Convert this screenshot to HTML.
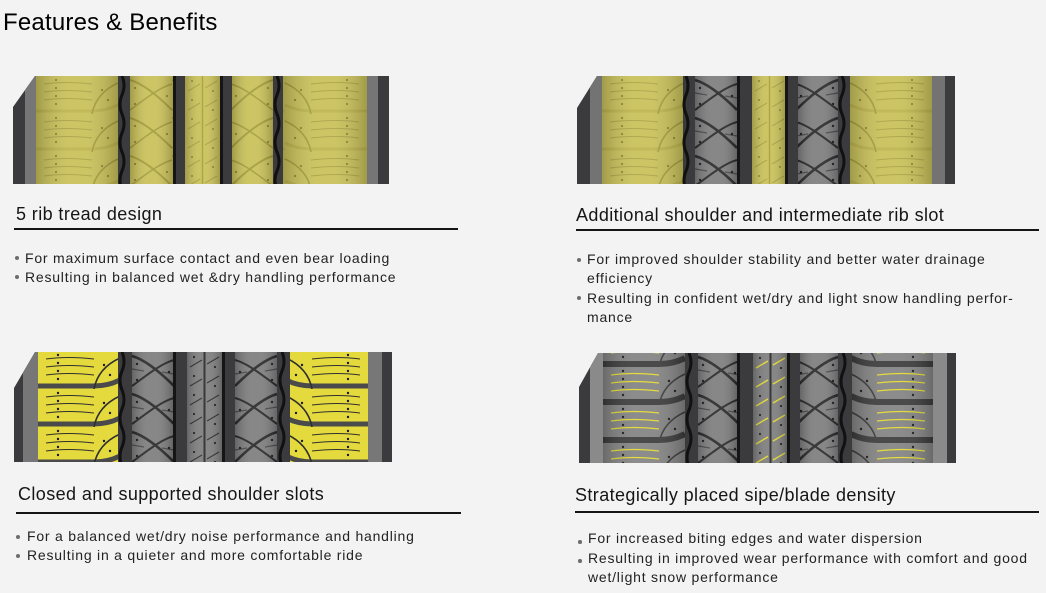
<!DOCTYPE html>
<html><head><meta charset="utf-8">
<style>
html,body{margin:0;padding:0;}
body{width:1046px;height:593px;background:#f3f3f3;position:relative;overflow:hidden;font-family:"Liberation Sans",Arial,sans-serif;color:#1a1a1a;}
.t{position:absolute;white-space:nowrap;}
.title{left:3px;top:9px;font-size:24px;line-height:28px;color:#000;letter-spacing:0.2px;}
.h{font-size:18px;line-height:22px;letter-spacing:0.4px;color:#151515;}
.ul{position:absolute;height:2px;background:#151515;}
.b{font-size:14px;letter-spacing:0.78px;color:#222;}
.d{position:absolute;width:4px;height:4px;border-radius:50%;background:#6d6d6d;}
svg{position:absolute;}
</style></head><body>

<svg width="0" height="0" style="left:0;top:0">
<defs>
<linearGradient id="sh" x1="0" x2="1" y1="0" y2="0">
 <stop offset="0" stop-color="#000" stop-opacity=".2"/>
 <stop offset=".4" stop-color="#fff" stop-opacity=".07"/>
 <stop offset=".6" stop-color="#fff" stop-opacity=".07"/>
 <stop offset="1" stop-color="#000" stop-opacity=".2"/>
</linearGradient>
<pattern id="pOS" patternUnits="userSpaceOnUse" width="82" height="38">
 <rect width="82" height="38" fill="#c9c159"/>
 <path d="M0,35 H56 Q70,35 82,29" stroke="#bdb44c" stroke-width="3" fill="none"/>
 <path d="M56,38 Q60,17 82,7" stroke="#a69d3b" stroke-width="1.6" fill="none"/>
 <path d="M8,8 Q30,5 56,8 M8,16 Q30,13 56,16 M8,24 Q30,21 56,24" stroke="#aba243" stroke-width="1.1" fill="none"/>
 <g fill="#8b832f"><circle cx="20" cy="4" r="1.1"/><circle cx="20" cy="12" r="1.1"/><circle cx="20" cy="20" r="1.1"/><circle cx="20" cy="28" r="1.1"/><circle cx="66" cy="14" r="1.1"/><circle cx="72" cy="24" r="1.1"/></g>
</pattern>
<pattern id="pOR" patternUnits="userSpaceOnUse" width="42" height="38">
 <rect width="42" height="38" fill="#c9c159"/>
 <path d="M0,4 C14,8 30,22 42,34" stroke="#a69d3b" stroke-width="2" fill="none"/>
 <path d="M0,34 C14,24 28,12 42,8" stroke="#a69d3b" stroke-width="1.6" fill="none"/>
 <g fill="#8b832f"><circle cx="5" cy="12" r="1.1"/><circle cx="5" cy="28" r="1.1"/><circle cx="37" cy="20" r="1.1"/></g>
</pattern>
<pattern id="pOC" patternUnits="userSpaceOnUse" width="35" height="19">
 <rect width="35" height="19" fill="#c9c159"/>
 <path d="M17.5,0 V19" stroke="#a69d3b" stroke-width="1.4"/>
 <path d="M3,15 L15,8 M20,12 L32,5" stroke="#aba243" stroke-width="1.1"/>
 <g fill="#8b832f"><circle cx="7" cy="5" r="1"/><circle cx="28" cy="15" r="1"/></g>
</pattern>
<pattern id="pGR" patternUnits="userSpaceOnUse" width="42" height="38">
 <rect width="42" height="38" fill="#7e7e7e"/>
 <path d="M0,4 C14,8 30,22 42,34" stroke="#2a2a2a" stroke-width="2.6" fill="none"/>
 <path d="M0,34 C14,24 28,12 42,8" stroke="#2a2a2a" stroke-width="2" fill="none"/>
 <path d="M0,17 L12,19 M30,20 L42,22" stroke="#4a4a4a" stroke-width="1.2"/>
 <g fill="#1c1c1c"><circle cx="5" cy="12" r="1.2"/><circle cx="5" cy="28" r="1.2"/><circle cx="37" cy="20" r="1.2"/></g>
</pattern>
<pattern id="pGC" patternUnits="userSpaceOnUse" width="35" height="19">
 <rect width="35" height="19" fill="#7e7e7e"/>
 <path d="M17.5,0 V19" stroke="#2a2a2a" stroke-width="2"/>
 <path d="M3,15 L15,8 M20,12 L32,5" stroke="#2e2e2e" stroke-width="1.2"/>
 <g fill="#1c1c1c"><circle cx="7" cy="5" r="1.1"/><circle cx="28" cy="15" r="1.1"/></g>
</pattern>
<pattern id="pYC" patternUnits="userSpaceOnUse" width="35" height="19">
 <rect width="35" height="19" fill="#7e7e7e"/>
 <path d="M17.5,0 V19" stroke="#2a2a2a" stroke-width="2"/>
 <path d="M3,15 L15,8 M20,12 L32,5" stroke="#e2d830" stroke-width="1.4"/>
 <g fill="#1c1c1c"><circle cx="7" cy="5" r="1.1"/><circle cx="28" cy="15" r="1.1"/></g>
</pattern>
<pattern id="pYS" patternUnits="userSpaceOnUse" width="82" height="38" y="-1">
 <rect width="82" height="38" fill="#e5da3d"/>
 <path d="M0,35 H56 Q70,35 82,29" stroke="#4a4a4a" stroke-width="5" fill="none"/>
 <path d="M56,38 Q60,17 82,7" stroke="#2f2f2f" stroke-width="1.6" fill="none"/>
 <path d="M8,8 Q30,5 56,8 M8,16 Q30,13 56,16 M8,24 Q30,21 56,24" stroke="#2f2f2f" stroke-width="1.1" fill="none"/>
 <g fill="#1a1a1a"><circle cx="20" cy="4" r="1.2"/><circle cx="20" cy="12" r="1.2"/><circle cx="20" cy="20" r="1.2"/><circle cx="20" cy="28" r="1.2"/><circle cx="66" cy="14" r="1.2"/><circle cx="72" cy="24" r="1.2"/></g>
</pattern>
<pattern id="pGS" patternUnits="userSpaceOnUse" width="82" height="38" y="14">
 <rect width="82" height="38" fill="#838383"/>
 <path d="M0,35 H56 Q70,35 82,29" stroke="#3c3c3c" stroke-width="6" fill="none"/>
 <path d="M56,38 Q60,17 82,7" stroke="#3c3c3c" stroke-width="1.6" fill="none"/>
 <path d="M8,8 Q30,5 56,8 M8,16 Q30,13 56,16 M8,24 Q30,21 56,24" stroke="#e3d930" stroke-width="1.2" fill="none"/>
 <g fill="#1a1a1a"><circle cx="20" cy="4" r="1.2"/><circle cx="20" cy="12" r="1.2"/><circle cx="20" cy="20" r="1.2"/><circle cx="20" cy="28" r="1.2"/><circle cx="66" cy="14" r="1.2"/><circle cx="72" cy="24" r="1.2"/></g>
</pattern>
<clipPath id="c1"><polygon points="22,0 376,0 376,108 0,108 0,31"/></clipPath>
<clipPath id="c2"><polygon points="20,0 378,0 378,108 0,108 0,32"/></clipPath>
<clipPath id="c3"><polygon points="21,0 378,0 378,110 0,110 0,36"/></clipPath>
<clipPath id="c4"><polygon points="19,0 377,0 377,110 0,110 0,34"/></clipPath>
</defs>
</svg>

<div class="t title">Features &amp; Benefits</div>

<!-- Tire 1 -->
<svg style="left:13px;top:76px" width="376" height="108">
<g clip-path="url(#c1)">
<rect width="376" height="108" fill="#3b3b3d"/>
<rect x="12" width="11" height="108" fill="#767676"/>
<g transform="translate(23,0)"><rect width="82" height="108" fill="url(#pOS)"/><rect width="82" height="108" fill="url(#sh)"/></g>
<path d="M109,0 Q113,9.5 109,19 T109,38 T109,57 T109,76 T109,95 T109,114" stroke="#111" stroke-width="3" fill="none"/>
<g transform="translate(117,0)"><rect width="43" height="108" fill="url(#pOR)"/><rect width="43" height="108" fill="url(#sh)"/></g>
<rect x="160" width="3" height="108" fill="#151515"/>
<g transform="translate(172,0)"><rect width="35" height="108" fill="url(#pOC)"/><rect width="35" height="108" fill="url(#sh)"/></g>
<rect x="207" width="3" height="108" fill="#151515"/>
<g transform="translate(260,0) scale(-1,1)"><rect width="41" height="108" fill="url(#pOR)"/><rect width="41" height="108" fill="url(#sh)"/></g>
<path d="M264,0 Q268,9.5 264,19 T264,38 T264,57 T264,76 T264,95 T264,114" stroke="#111" stroke-width="3" fill="none"/>
<g transform="translate(354,0) scale(-1,1)"><rect width="84" height="108" fill="url(#pOS)"/><rect width="84" height="108" fill="url(#sh)"/></g>
<rect x="354" width="11" height="108" fill="#767676"/>
</g>
</svg>

<!-- Tire 2 -->
<svg style="left:577px;top:76px" width="378" height="108">
<g clip-path="url(#c2)">
<rect width="378" height="108" fill="#3b3b3d"/>
<rect x="13" width="12" height="108" fill="#737373"/>
<g transform="translate(25,0)"><rect width="81" height="108" fill="url(#pOS)"/><rect width="81" height="108" fill="url(#sh)"/></g>
<path d="M109,0 Q113,9.5 109,19 T109,38 T109,57 T109,76 T109,95 T109,114" stroke="#111" stroke-width="3" fill="none"/>
<g transform="translate(118,0)"><rect width="42" height="108" fill="url(#pGR)"/><rect width="42" height="108" fill="url(#sh)"/></g>
<rect x="160" width="3" height="108" fill="#151515"/>
<g transform="translate(175,0)"><rect width="33" height="108" fill="url(#pOC)"/><rect width="33" height="108" fill="url(#sh)"/></g>
<rect x="208" width="3" height="108" fill="#151515"/>
<g transform="translate(261,0) scale(-1,1)"><rect width="40" height="108" fill="url(#pGR)"/><rect width="40" height="108" fill="url(#sh)"/></g>
<path d="M265,0 Q269,9.5 265,19 T265,38 T265,57 T265,76 T265,95 T265,114" stroke="#111" stroke-width="3" fill="none"/>
<g transform="translate(355,0) scale(-1,1)"><rect width="82" height="108" fill="url(#pOS)"/><rect width="82" height="108" fill="url(#sh)"/></g>
<rect x="355" width="13" height="108" fill="#737373"/>
</g>
</svg>

<!-- Tire 3 -->
<svg style="left:14px;top:352px" width="378" height="110">
<g clip-path="url(#c3)">
<rect width="378" height="110" fill="#3b3b3d"/>
<rect x="9" width="15" height="110" fill="#777"/>
<g transform="translate(24,0)"><rect width="80" height="110" fill="url(#pYS)"/></g>
<path d="M108,0 Q112,9.5 108,19 T108,38 T108,57 T108,76 T108,95 T108,114" stroke="#111" stroke-width="3" fill="none"/>
<g transform="translate(118,0)"><rect width="41" height="110" fill="url(#pGR)"/><rect width="41" height="110" fill="url(#sh)"/></g>
<rect x="159" width="3" height="110" fill="#151515"/>
<g transform="translate(173,0)"><rect width="35" height="110" fill="url(#pGC)"/><rect width="35" height="110" fill="url(#sh)"/></g>
<rect x="208" width="3" height="110" fill="#151515"/>
<g transform="translate(263,0) scale(-1,1)"><rect width="42" height="110" fill="url(#pGR)"/><rect width="42" height="110" fill="url(#sh)"/></g>
<path d="M268,0 Q272,9.5 268,19 T268,38 T268,57 T268,76 T268,95 T268,114" stroke="#111" stroke-width="3" fill="none"/>
<g transform="translate(354,0) scale(-1,1)"><rect width="78" height="110" fill="url(#pYS)"/></g>
<rect x="354" width="14" height="110" fill="#777"/>
</g>
</svg>

<!-- Tire 4 -->
<svg style="left:579px;top:353px" width="377" height="110">
<g clip-path="url(#c4)">
<rect width="377" height="110" fill="#3b3b3d"/>
<rect x="11" width="13" height="110" fill="#8a8a8a"/>
<g transform="translate(24,0)"><rect width="82" height="110" fill="url(#pGS)"/><rect width="82" height="110" fill="url(#sh)"/></g>
<path d="M110,0 Q114,9.5 110,19 T110,38 T110,57 T110,76 T110,95 T110,114" stroke="#111" stroke-width="3" fill="none"/>
<g transform="translate(119,0)"><rect width="39" height="110" fill="url(#pGR)"/><rect width="39" height="110" fill="url(#sh)"/></g>
<rect x="158" width="3" height="110" fill="#151515"/>
<g transform="translate(174,0)"><rect width="34" height="110" fill="url(#pYC)"/><rect width="34" height="110" fill="url(#sh)"/></g>
<rect x="208" width="3" height="110" fill="#151515"/>
<g transform="translate(259,0) scale(-1,1)"><rect width="38" height="110" fill="url(#pGR)"/><rect width="38" height="110" fill="url(#sh)"/></g>
<path d="M264,0 Q268,9.5 264,19 T264,38 T264,57 T264,76 T264,95 T264,114" stroke="#111" stroke-width="3" fill="none"/>
<g transform="translate(354,0) scale(-1,1)"><rect width="81" height="110" fill="url(#pGS)"/><rect width="81" height="110" fill="url(#sh)"/></g>
<rect x="354" width="14" height="110" fill="#8a8a8a"/>
</g>
</svg>

<!-- Section 1 -->
<div class="t h" style="left:16px;top:203px;">5 rib tread design</div>
<div class="ul" style="left:14px;top:228px;width:444px;"></div>
<div class="d" style="left:15px;top:256px;"></div>
<div class="d" style="left:15px;top:275px;"></div>
<div class="t b" style="left:25px;top:248.7px;line-height:19px;">For maximum surface contact and even bear loading<br>Resulting in balanced wet &amp;dry handling performance</div>

<!-- Section 2 -->
<div class="t h" style="left:576px;top:203.8px;">Additional shoulder and intermediate rib slot</div>
<div class="ul" style="left:576px;top:229px;width:463px;"></div>
<div class="d" style="left:577px;top:258px;"></div>
<div class="d" style="left:577px;top:296px;"></div>
<div class="t b" style="left:587px;top:250.4px;line-height:19.1px;">For improved shoulder stability and better water drainage<br>efficiency<br>Resulting in confident wet/dry and light snow handling perfor-<br>mance</div>

<!-- Section 3 -->
<div class="t h" style="left:18px;top:482.8px;">Closed and supported shoulder slots</div>
<div class="ul" style="left:16px;top:512px;width:445px;"></div>
<div class="d" style="left:16px;top:535px;"></div>
<div class="d" style="left:16px;top:554px;"></div>
<div class="t b" style="left:27px;top:527.1px;line-height:19px;">For a balanced wet/dry noise performance and handling<br>Resulting in a quieter and more comfortable ride</div>

<!-- Section 4 -->
<div class="t h" style="left:575px;top:483.8px;">Strategically placed sipe/blade density</div>
<div class="ul" style="left:575px;top:511px;width:464px;"></div>
<div class="d" style="left:578px;top:540px;width:3.5px;height:3.5px;"></div>
<div class="d" style="left:578px;top:559px;width:3.5px;height:3.5px;"></div>
<div class="t b" style="left:588px;top:529.4px;line-height:19.2px;">For increased biting edges and water dispersion<br>Resulting in improved wear performance with comfort and good<br>wet/light snow performance</div>

</body></html>
